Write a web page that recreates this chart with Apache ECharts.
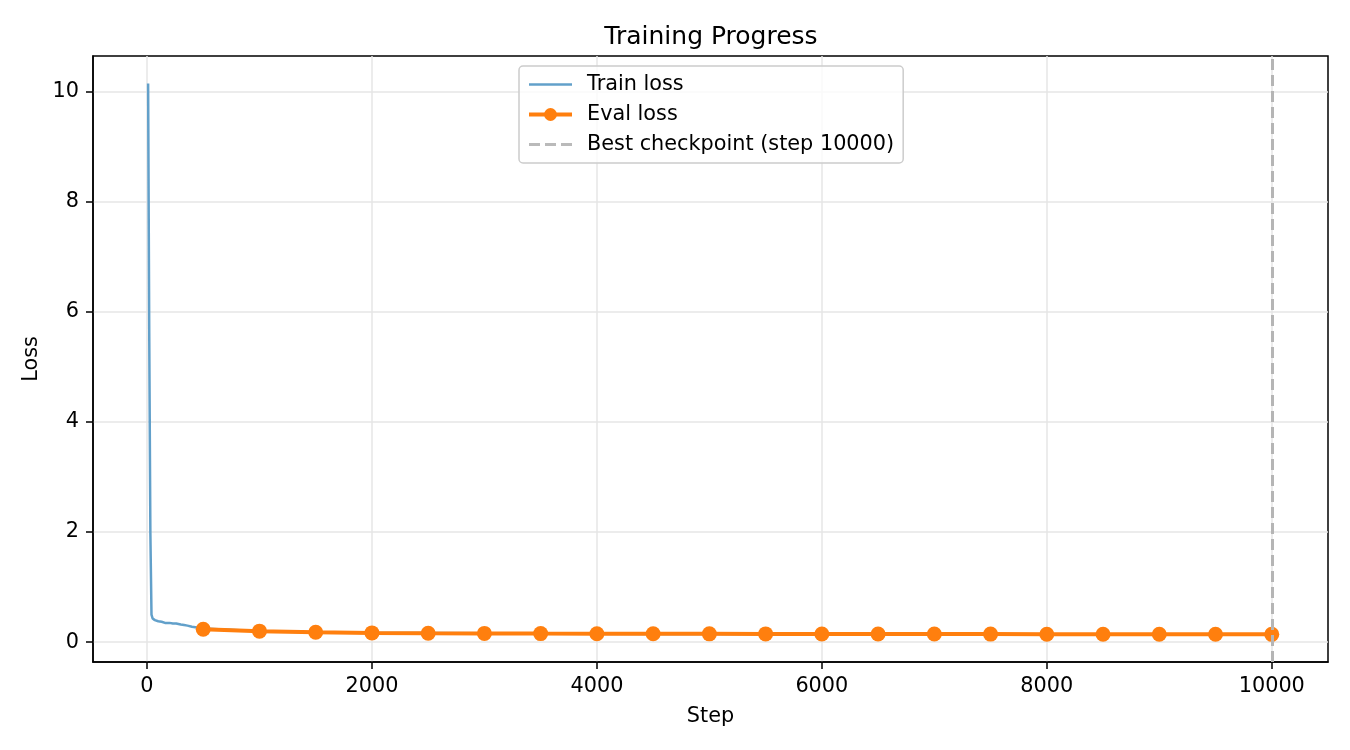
<!DOCTYPE html>
<html>
<head>
<meta charset="utf-8">
<script src="https://cdn.jsdelivr.net/npm/echarts@6/dist/echarts.min.js"></script>
<style>
  html, body { margin: 0; padding: 0; background: #fff; }
  #main { width: 1350px; height: 750px; }
</style>
</head>
<body>
<div id="main"></div>
<script>
// train loss
var trainSteps = [10, 20, 30, 40, 50, 70, 100, 130, 160, 200, 230, 260, 300, 330, 360, 400, 430, 460, 500,
    1000, 1500, 2000, 2500, 3000, 3500, 4000, 4500, 5000, 5500, 6000, 6500, 7000, 7500, 8000, 8500, 9000, 9500, 10000];
var trainLoss = [10.14, 5.6, 2.0, 0.5, 0.43, 0.4, 0.38, 0.37, 0.35, 0.35, 0.34, 0.34, 0.32, 0.31, 0.3, 0.28, 0.27, 0.26, 0.25,
    0.2, 0.18, 0.17, 0.165, 0.16, 0.155, 0.153, 0.15, 0.149, 0.148, 0.147, 0.146, 0.145, 0.145, 0.144, 0.143, 0.142, 0.141, 0.14];

// eval loss
var evalSteps = [500, 1000, 1500, 2000, 2500, 3000, 3500, 4000, 4500, 5000, 5500, 6000, 6500, 7000, 7500, 8000, 8500, 9000, 9500, 10000];
var evalLoss = [0.235, 0.2, 0.18, 0.168, 0.163, 0.159, 0.156, 0.154, 0.152, 0.151, 0.15, 0.149, 0.148, 0.147, 0.146, 0.145, 0.145, 0.144, 0.143, 0.142];

var bestStep = 10000;

var xTicks = [0, 2000, 4000, 6000, 8000, 10000];
var yTicks = [0, 2, 4, 6, 8, 10];

var font = 'DejaVu Sans';
var fs = 20.8;

var trainData = [];
for (var i = 0; i < trainSteps.length; i++) {
    trainData.push([trainSteps[i], trainLoss[i]]);
}
var evalData = [];
for (var j = 0; j < evalSteps.length; j++) {
    evalData.push([evalSteps[j], evalLoss[j]]);
}

var chartDom = document.getElementById('main');
var myChart = echarts.init(chartDom, null, { renderer: 'canvas' });
var option;

option = {
    animation: false,
    textStyle: { fontFamily: font },
    title: {
        text: 'Training Progress',
        left: 706,
        top: 20,
        textAlign: 'center',
        textStyle: { fontFamily: font, fontSize: 25, fontWeight: 'normal', color: '#000' }
    },
    grid: {
        left: 93, right: 22, top: 56, bottom: 88,
        show: true,
        borderColor: '#000',
        borderWidth: 1.5,
        backgroundColor: 'transparent'
    },
    legend: {
        orient: 'vertical',
        left: 519,
        top: 66,
        padding: [8, 9, 8, 8],
        itemGap: 9,
        itemWidth: 43,
        itemHeight: 16,
        backgroundColor: 'rgba(255,255,255,0.8)',
        borderColor: '#cccccc',
        borderWidth: 1.5,
        borderRadius: 4,
        textStyle: { fontFamily: font, fontSize: fs, color: '#000', padding: [0, 0, 0, 10] },
        data: [
            { name: 'Train loss', itemStyle: { opacity: 0 }, lineStyle: { width: 2.5 } },
            { name: 'Eval loss', lineStyle: { width: 4 } },
            { name: 'Best checkpoint (step 10000)', itemStyle: { opacity: 0 }, lineStyle: { width: 3 } }
        ]
    },
    xAxis: {
        type: 'value',
        name: 'Step',
        nameLocation: 'middle',
        nameGap: 44,
        nameTextStyle: { fontFamily: font, fontSize: fs, color: '#000' },
        min: -480,
        max: 10500,
        axisLine: { show: true, onZero: false, lineStyle: { color: '#000', width: 1.5 } },
        axisTick: { show: true, length: 7, lineStyle: { color: '#000', width: 1.5 }, customValues: xTicks },
        axisLabel: {
            fontFamily: font, fontSize: fs, color: '#000', margin: 14, customValues: xTicks,
            formatter: function (v) { return String(v); }
        },
        splitLine: { show: true, lineStyle: { color: '#e6e6e6', width: 1.5 } }
    },
    yAxis: {
        type: 'value',
        name: 'Loss',
        nameLocation: 'middle',
        nameGap: 50,
        nameTextStyle: { fontFamily: font, fontSize: fs, color: '#000' },
        min: -0.36,
        max: 10.64,
        axisLine: { show: true, onZero: false, lineStyle: { color: '#000', width: 1.5 } },
        axisTick: { show: true, length: 7, lineStyle: { color: '#000', width: 1.5 }, customValues: yTicks },
        axisLabel: { fontFamily: font, fontSize: fs, color: '#000', margin: 14, customValues: yTicks },
        splitLine: { show: true, lineStyle: { color: '#e6e6e6', width: 1.5 } }
    },
    series: [
        {
            name: 'Train loss',
            type: 'line',
            data: trainData,
            showSymbol: false,
            symbol: 'none',
            color: '#62a0ca',
            lineStyle: { color: '#62a0ca', width: 2.5 }
        },
        {
            name: 'Eval loss',
            type: 'line',
            data: evalData,
            symbol: 'circle',
            symbolSize: 15,
            color: '#ff7f0e',
            lineStyle: { color: '#ff7f0e', width: 4 },
            itemStyle: { color: '#ff7f0e' }
        },
        {
            name: 'Best checkpoint (step 10000)',
            type: 'line',
            data: [],
            symbol: 'none',
            color: '#bababa',
            lineStyle: { color: '#bababa', width: 3, type: [11, 5] },
            markLine: {
                silent: true,
                symbol: 'none',
                label: { show: false },
                lineStyle: { color: '#b5b5b5', width: 3, type: [11, 5] },
                data: [{ xAxis: bestStep }]
            }
        }
    ]
};

myChart.setOption(option);
</script>
</body>
</html>
